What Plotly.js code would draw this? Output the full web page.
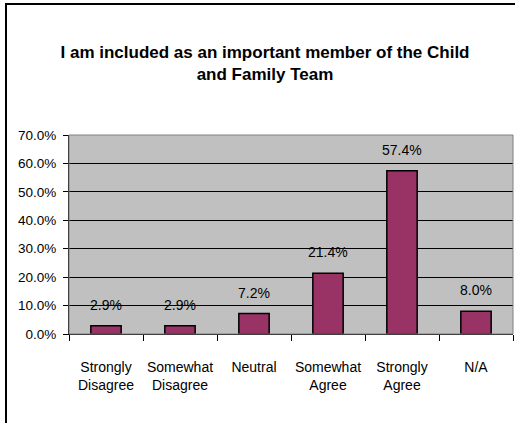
<!DOCTYPE html>
<html>
<head>
<meta charset="utf-8">
<script src="https://cdn.plot.ly/plotly-3.0.1.min.js"></script>
<style>
  html, body { margin: 0; padding: 0; background: #fff; }
  #wrap { position: relative; width: 515px; height: 423px; overflow: hidden; }
  #chart { width: 515px; height: 423px; }
  #frame { position: absolute; left: 5px; top: 3px; width: 560px; height: 480px;
           border: 2px solid #000; pointer-events: none; }
</style>
</head>
<body>
<div id="wrap">
  <div id="chart"></div>
  <div id="frame"></div>
</div>
<script>
const categories = ["Strongly<br>Disagree", "Somewhat<br>Disagree", "Neutral", "Somewhat<br>Agree", "Strongly<br>Agree", "N/A"];
const values = [0.029, 0.029, 0.072, 0.214, 0.574, 0.080];
const yTickVals = [0, 0.1, 0.2, 0.3, 0.4, 0.5, 0.6, 0.7];
const titleText = "I am included as an important member of the Child<br>and Family Team";

const FONT = "'Liberation Sans', Arial, sans-serif";

const trace = {
  type: "bar",
  x: categories,
  y: values,
  marker: { color: "#993366", line: { color: "#000", width: 1.5 } },
  hoverinfo: "skip"
};

const annotations = categories.map((c, i) => ({
  x: c, y: values[i], xref: "x", yref: "y",
  text: (values[i] * 100).toFixed(1) + "%",
  showarrow: false, yanchor: "middle", yshift: 21,
  font: { family: FONT, size: 14, color: "#000" }
}));

const layout = {
  width: 515, height: 423,
  margin: { l: 69, r: 2, t: 135, b: 89 },
  paper_bgcolor: "#fff",
  plot_bgcolor: "#C0C0C0",
  showlegend: false,
  bargap: 0.59,
  title: {
    text: "<b>" + titleText + "</b>",
    font: { family: FONT, size: 17, color: "#000" },
    x: 265 / 515, xref: "container", xanchor: "center",
    y: 1 - 58 / 423, yref: "container", yanchor: "middle"
  },
  xaxis: {
    type: "category",
    showline: true, linecolor: "#000", linewidth: 1,
    ticks: "outside", tickson: "boundaries", ticklen: 6, tickcolor: "#000",
    tickangle: 0, ticklabelstandoff: 20,
    tickfont: { family: FONT, size: 14, color: "#000" },
    showgrid: false, fixedrange: true
  },
  yaxis: {
    range: [0, 0.7],
    tickvals: yTickVals, tickformat: ".1%",
    showline: true, linecolor: "#000", linewidth: 1,
    ticks: "outside", ticklen: 5, tickcolor: "#000",
    ticklabelstandoff: 4,
    showgrid: true, gridcolor: "#000", gridwidth: 1,
    zeroline: false,
    tickfont: { family: FONT, size: 13.5, color: "#000" },
    fixedrange: true
  },
  shapes: [{
    type: "rect", xref: "paper", yref: "paper", x0: 0, x1: 1, y0: 0, y1: 1,
    line: { color: "#808080", width: 1 }, layer: "above"
  }],
  annotations: annotations
};

Plotly.newPlot("chart", [trace], layout, { displayModeBar: false, staticPlot: true });
</script>
</body>
</html>
